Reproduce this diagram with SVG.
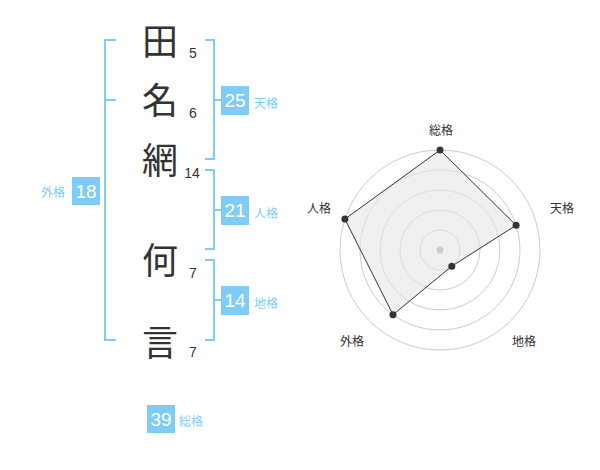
<svg xmlns="http://www.w3.org/2000/svg" width="600" height="470" viewBox="0 0 600 470">
<style>
.kanji{font-family:"Noto Sans CJK JP","Noto Sans CJK SC",sans-serif;font-size:36px;fill:#333;text-anchor:middle}
.stroke{font-family:"Liberation Sans",Arial,sans-serif;font-size:14px;fill:#333;text-anchor:middle}
.br{fill:none;stroke:#7fccf7;stroke-width:2}
.box{fill:#7fccf7}
.num{font-family:"Liberation Sans",Arial,sans-serif;font-size:19px;fill:#fff;text-anchor:middle}
.lab{font-family:"Noto Sans CJK JP","Noto Sans CJK SC",sans-serif;font-size:12px;fill:#7fccf7}
.ring{fill:none;stroke:#ccc;stroke-width:1}
.rl{font-family:"Noto Sans CJK JP","Noto Sans CJK SC",sans-serif;font-size:12px;fill:#333;text-anchor:middle}
.dot{fill:#333}
</style>
<rect width="600" height="470" fill="#fff"/>
<g id="name">
<g id="c1"><text class="kanji" x="160" y="55">田</text><text class="stroke" x="193" y="58">5</text></g>
<g id="c2"><text class="kanji" x="160" y="114">名</text><text class="stroke" x="193" y="118">6</text></g>
<g id="c3"><text class="kanji" x="160" y="174">網</text><text class="stroke" x="192" y="178">14</text></g>
<g id="c4"><text class="kanji" x="160" y="274">何</text><text class="stroke" x="193" y="278">7</text></g>
<g id="c5"><text class="kanji" x="160" y="356">言</text><text class="stroke" x="193" y="357">7</text></g>
</g>
<g id="connectors">
<path class="br" d="M116,40 H105 V340 H116 M105,100 H116"/>
<path class="br" d="M205,40 H214 V159 H205 M214,100 H221"/>
<path class="br" d="M205,170 H214 V249 H205 M214,210 H221"/>
<path class="br" d="M205,260 H214 V340 H205 M214,300 H221"/>
</g>
<g id="gaikaku"><rect class="box" x="72" y="177" width="28" height="28"/><text class="num" x="86" y="198">18</text><text class="lab" x="41" y="197">外格</text></g>
<g id="tenkaku"><rect class="box" x="221" y="86" width="28" height="29"/><text class="num" x="235" y="107">25</text><text class="lab" x="254" y="108">天格</text></g>
<g id="jinkaku"><rect class="box" x="221" y="196" width="28" height="29"/><text class="num" x="235" y="217">21</text><text class="lab" x="254" y="218">人格</text></g>
<g id="chikaku"><rect class="box" x="221" y="286" width="28" height="29"/><text class="num" x="235" y="307">14</text><text class="lab" x="254" y="308">地格</text></g>
<g id="soukaku"><rect class="box" x="147" y="405" width="28" height="28"/><text class="num" x="161" y="426">39</text><text class="lab" x="179" y="426">総格</text></g>
<g id="radar">
<circle class="ring" cx="440" cy="250" r="20"/>
<circle class="ring" cx="440" cy="250" r="40"/>
<circle class="ring" cx="440" cy="250" r="60"/>
<circle class="ring" cx="440" cy="250" r="80"/>
<circle class="ring" cx="440" cy="250" r="100"/>
<polygon points="440,150 516.1,225.3 451.8,266.2 393,314.7 344.9,219.1" fill="#e6e6e6" fill-opacity="0.6" stroke="#333" stroke-width="1"/>
<circle cx="440" cy="250" r="3.5" fill="#ccc"/>
<circle class="dot" cx="440" cy="150" r="3.5"/>
<circle class="dot" cx="516.1" cy="225.3" r="3.5"/>
<circle class="dot" cx="451.8" cy="266.2" r="3.5"/>
<circle class="dot" cx="393" cy="314.7" r="3.5"/>
<circle class="dot" cx="344.9" cy="219.1" r="3.5"/>
<text class="rl" x="441" y="135">総格</text>
<text class="rl" x="562" y="213">天格</text>
<text class="rl" x="524" y="346">地格</text>
<text class="rl" x="352" y="346">外格</text>
<text class="rl" x="319" y="213">人格</text>
</g>
</svg>
